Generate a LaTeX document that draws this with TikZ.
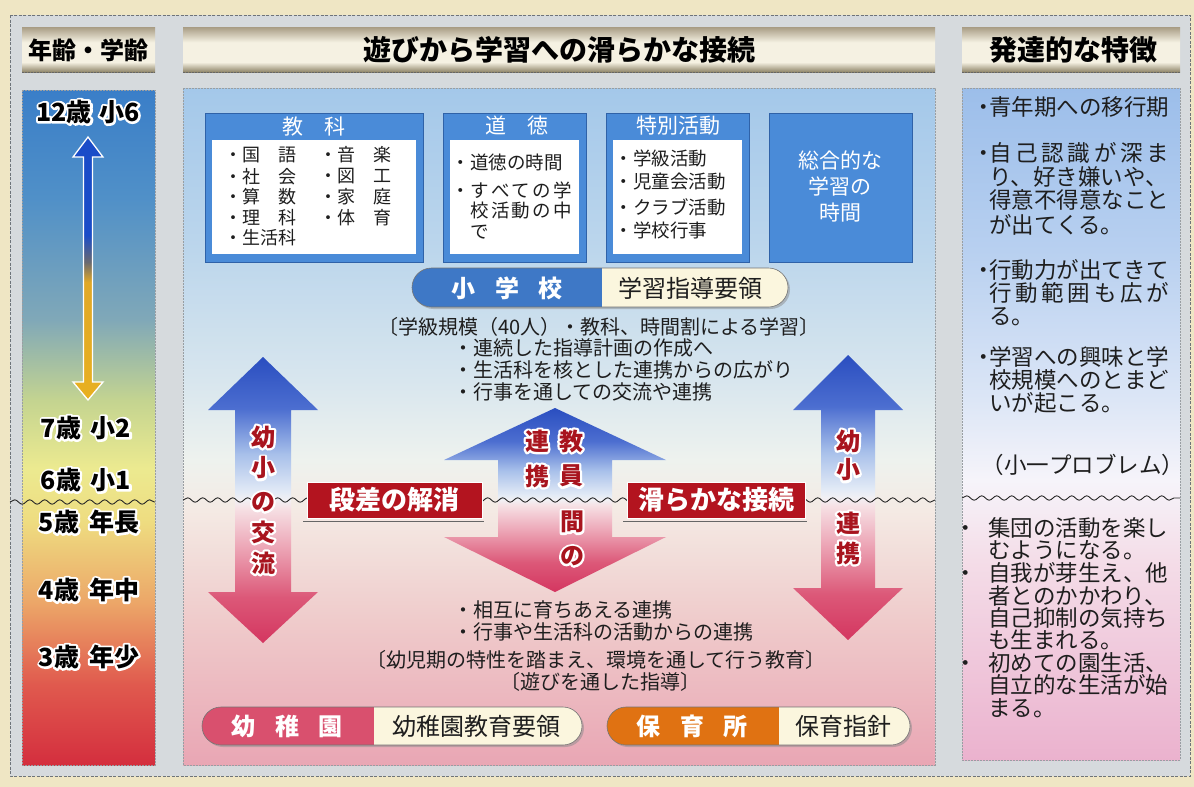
\documentclass[tikz,border=0pt]{standalone}
\usepackage{fontspec}
\setmainfont{Noto Sans CJK JP}
\usetikzlibrary{calc,decorations.pathmorphing}
\definecolor{bgcream}{HTML}{EFE6C4}
\definecolor{panelgrey}{HTML}{D6DADD}
\definecolor{panelborder}{HTML}{6E747A}
\definecolor{hdrT}{HTML}{A89C84}
\definecolor{hdrL}{HTML}{F5F1E2}
\definecolor{hdrD}{HTML}{8E8468}
\definecolor{ageR}{HTML}{D42E3E}
\definecolor{ageRO}{HTML}{E05A4E}
\definecolor{ageO}{HTML}{ECA668}
\definecolor{ageY}{HTML}{EEDC80}
\definecolor{ageY2}{HTML}{ECEA90}
\definecolor{ageYG}{HTML}{C4D490}
\definecolor{ageGB}{HTML}{80A8B8}
\definecolor{ageB2}{HTML}{5090C8}
\definecolor{ageB}{HTML}{3A7EC8}
\definecolor{midA}{HTML}{A4C8EA}
\definecolor{midB}{HTML}{BCD6EC}
\definecolor{midC}{HTML}{D8E6EE}
\definecolor{midD}{HTML}{EEF2EE}
\definecolor{midE}{HTML}{F4EAE4}
\definecolor{midF}{HTML}{EFCBCB}
\definecolor{midG}{HTML}{E9A6B4}
\definecolor{rA}{HTML}{9CBEEA}
\definecolor{rB}{HTML}{B8D0F0}
\definecolor{rC}{HTML}{DCE6F6}
\definecolor{rD}{HTML}{F6F4FA}
\definecolor{rE}{HTML}{F4DDE8}
\definecolor{rF}{HTML}{EBB2CE}
\definecolor{aR}{HTML}{D43660}
\definecolor{aR2}{HTML}{DC5878}
\definecolor{aP}{HTML}{EDA8B8}
\definecolor{aP2}{HTML}{F6E0E4}
\definecolor{aW}{HTML}{F2F0F4}
\definecolor{aLB}{HTML}{E2EAF6}
\definecolor{aB3}{HTML}{A8C0EA}
\definecolor{aB2}{HTML}{4C6ED0}
\definecolor{aB}{HTML}{2A4EC0}
\definecolor{agB}{HTML}{1A4CC8}
\definecolor{agM}{HTML}{6A6A70}
\definecolor{agO}{HTML}{E0A828}
\definecolor{agO2}{HTML}{E8B020}
\definecolor{boxblue}{HTML}{4A8BD8}
\definecolor{boxblueD}{HTML}{2F62A8}
\definecolor{pillblue}{HTML}{3E78C6}
\definecolor{pillcream}{HTML}{FBF6DE}
\definecolor{pillpink}{HTML}{D9506E}
\definecolor{pillorange}{HTML}{E07212}
\definecolor{labred}{HTML}{B3141F}
\definecolor{darkred}{HTML}{A8141E}
\definecolor{txtdark}{HTML}{1E1E1E}
\pgfdeclareverticalshading{hdr}{100bp}{color(0bp)=(hdrD); color(25bp)=(hdrD); color(36bp)=(hdrL); color(58bp)=(hdrL); color(75bp)=(hdrT); color(100bp)=(hdrT)}
\pgfdeclareverticalshading{agecol}{100bp}{color(0bp)=(ageR); color(25bp)=(ageR); color(31bp)=(ageRO); color(37bp)=(ageO); color(43bp)=(ageY); color(47bp)=(ageY2); color(52bp)=(ageYG); color(58bp)=(ageGB); color(67bp)=(ageB2); color(75bp)=(ageB); color(100bp)=(ageB)}
\pgfdeclareverticalshading{midcol}{100bp}{color(0bp)=(midG); color(25bp)=(midG); color(35.7bp)=(midF); color(43.8bp)=(midE); color(47.5bp)=(midD); color(53.4bp)=(midC); color(63bp)=(midB); color(75bp)=(midA); color(100bp)=(midA)}
\pgfdeclareverticalshading{rcol}{100bp}{color(0bp)=(rF); color(25bp)=(rF); color(39.9bp)=(rE); color(45.8bp)=(rD); color(51.8bp)=(rC); color(62.9bp)=(rB); color(75bp)=(rA); color(100bp)=(rA)}
\pgfdeclareverticalshading{dblarrow}{100bp}{color(0bp)=(aR); color(25bp)=(aR); color(33bp)=(aR2); color(42bp)=(aP); color(48.5bp)=(aP2); color(50bp)=(aW); color(51.5bp)=(aLB); color(58bp)=(aB3); color(66bp)=(aB2); color(75bp)=(aB); color(100bp)=(aB)}
\pgfdeclareverticalshading{agearrow}{100bp}{color(0bp)=(agO2); color(25bp)=(agO2); color(47.4bp)=(agO); color(51.2bp)=(agM); color(56.4bp)=(agB); color(75bp)=(agB); color(100bp)=(agB)}
\newcommand\bulA{\llap{・\hspace{-0.25em}}}
\newcommand\bulB{\llap{・\hspace{0.5em}}}
\newcommand\bulC{\llap{・}}
% outline copy: stroke only, round joins
\newcommand\strk[1]{\special{pdf:literal direct 1 Tr 4.4 w 1 j 1 J}#1\special{pdf:literal direct 0 Tr}}
\newcommand\halo[6]{%
  \node[#1,text=#4] (#2o) at (#3) {\strk{#6}};%
  \node[#1,text=#5] (#2) at (#3) {#6};}
\tikzset{
  hdrtxt/.style={font=\fontsize{28}{28}\selectfont\bfseries, text=black, inner sep=0},
  agetxt/.style={font=\fontsize{25}{25}\selectfont\bfseries, inner sep=0},
  arrtxt/.style={font=\fontsize{24}{24}\selectfont\bfseries, inner sep=0},
  boxhead/.style={font=\fontsize{21}{21}\selectfont, text=white, inner sep=0},
  item/.style={font=\fontsize{18.5}{18.5}\selectfont, text=txtdark, anchor=west, inner sep=0},
  body/.style={font=\fontsize{20}{20}\selectfont, text=txtdark, inner sep=0},
  rtxt/.style={font=\fontsize{22.5}{22.5}\selectfont, text=txtdark, anchor=west, inner sep=0},
  pilltxt/.style={font=\fontsize{24}{24}\selectfont, text=txtdark, inner sep=0},
  pilltxtw/.style={font=\fontsize{24}{24}\selectfont\bfseries, text=white, inner sep=0},
  redlab/.style={fill=labred, draw=white, line width=1, text=white, font=\fontsize{26}{26}\selectfont\bfseries, inner sep=0, minimum height=36},
  wave/.style={decorate, decoration={snake, segment length=15, amplitude=2.2}, line width=0.9, draw=black!85},
  bluebox/.style={fill=boxblue, draw=boxblueD, line width=0.6},
  panelline/.style={draw=panelborder!70, line width=0.5, dash pattern=on 2 off 1},
  pillout/.style={draw=black!55, line width=0.6},
  pillshadow/.style={fill=black!45, opacity=0.5},
}
\begin{document}
\begin{tikzpicture}[x=1pt,y=-1pt]
\useasboundingbox (0,0) rectangle (1194,787);
\fill[bgcream] (0,0) rectangle (1194,787);
\fill[panelgrey] (10,15) rectangle (1190,776);
\draw[draw=panelborder, line width=0.8, dash pattern=on 3 off 1.5] (10,15) rectangle (1190,776);
% headers
\foreach \xa/\xb in {22/155,183/935,962/1180}{%
  \shade[shading=hdr] (\xa,27) rectangle (\xb,72);
  \draw[draw=black!60, line width=0.8, dash pattern=on 2 off 1] (\xa,72) -- (\xb,72);}
\node[hdrtxt, font=\fontsize{24}{24}\selectfont\bfseries] (h1) at (88.5,50) {年齢・学齢};
\node[hdrtxt] (h2) at (559,50) {遊びから学習への滑らかな接続};
\node[hdrtxt] (h3) at (1073,50) {発達的な特徴};
% columns
\shade[shading=agecol] (22,90) rectangle (155,765);
\shade[shading=midcol] (183,88) rectangle (935,765);
\shade[shading=rcol] (962,88) rectangle (1180,760);
\draw[panelline] (22,90) rectangle (155,765);
\draw[panelline] (183,88) rectangle (935,765);
\draw[panelline] (962,88) rectangle (1180,760);
% age arrow
\shadedraw[shading=agearrow, draw=white, line width=1.3] (88,137) -- (103,157) -- (92.5,157) -- (92.5,382) -- (103,382) -- (88,400) -- (73,382) -- (83.5,382) -- (83.5,157) -- (73,157) -- cycle;
% waves
\draw[wave] (10,502) -- (155,502);
% age labels
\halo{agetxt}{a12}{88,112}{white}{black}{12歳\hspace{0.3em}小6}
\halo{agetxt}{a7}{86,428}{white}{black}{7歳\hspace{0.4em}小2}
\halo{agetxt}{a6}{86,480}{white}{black}{6歳\hspace{0.4em}小1}
\halo{agetxt}{a5}{89,522}{white}{black}{5歳\hspace{0.4em}年長}
\halo{agetxt}{a4}{89,590}{white}{black}{4歳\hspace{0.4em}年中}
\halo{agetxt}{a3}{89,657}{white}{black}{3歳\hspace{0.4em}年少}
% top boxes
\filldraw[bluebox] (205,113) rectangle (423,262);
\fill[white] (212,140) rectangle (416,254);
\filldraw[bluebox] (443,113) rectangle (586,262);
\fill[white] (450,140) rectangle (579,254);
\filldraw[bluebox] (606,113) rectangle (749,262);
\fill[white] (613,140) rectangle (742,254);
\filldraw[bluebox] (769,113) rectangle (912,262);
\node[boxhead] (kh) at (314,127) {教　科};
\node[boxhead] (dh) at (517,126) {道　徳};
\node[boxhead] (th) at (678,126) {特別活動};
\foreach \yy/\lineT [count=\i] in {155/国　語,176.5/社　会,197/算　数,217.5/理　科,238/生活科}
  {\node[item, font=\fontsize{18}{18}\selectfont] (ka\i) at (242,\yy) {\bulC\lineT};}
\foreach \yy/\lineT [count=\i] in {155/音　楽,176.5/図　工,197/家　庭,217.5/体　育}
  {\node[item, font=\fontsize{18}{18}\selectfont] (kb\i) at (337,\yy) {\bulC\lineT};}
\node[item] (d1) at (470,162) {\bulC 道徳の時間};
\node[item] (d2) at (470,190) {\bulC\makebox[102pt][s]{す\hfill べ\hfill て\hfill の\hfill 学}};
\node[item] (d3) at (470,211) {\makebox[102pt][s]{校\hfill 活\hfill 動\hfill の\hfill 中}};
\node[item] (d4) at (470,232) {で};
\foreach \yy/\lineT [count=\i] in {158/学級活動,182/児童会活動,207/クラブ活動,230/学校行事}
  {\node[item] (t\i) at (633,\yy) {\bulC\lineT};}
\node[boxhead, align=center, font=\fontsize{21}{26}\selectfont] (sg) at (840,186) {総合的な\\学習の\\時間};
% elementary school pill
\fill[pillshadow, rounded corners=19.5] (414,270) rectangle (790,309);
\begin{scope}
  \clip[rounded corners=19.5] (412,268) rectangle (788,307);
  \fill[pillcream] (412,268) rectangle (788,307);
  \fill[pillblue] (412,268) rectangle (602,307);
\end{scope}
\draw[pillout, rounded corners=19.5] (412,268) rectangle (788,307);
\node[pilltxtw] (sho) at (507,288) {小\hspace{0.8em}学\hspace{0.8em}校};
\node[pilltxt] (shoy) at (690,288) {学習指導要領};
% body texts upper
\node[body] (u0) at (599,327) {〔学級規模（40人）・教科、時間割による学習〕};
\node[body, anchor=west] (u1) at (473,348) {\bulC 連続した指導計画の作成へ};
\node[body, anchor=west] (u2) at (473,370) {\bulC 生活科を核とした連携からの広がり};
\node[body, anchor=west] (u3) at (473,392) {\bulC 行事を通しての交流や連携};
% big arrows
\shade[shading=dblarrow] (263,357) -- (318,410) -- (291,410) -- (291,592) -- (318,592) -- (263,643) -- (208,592) -- (235,592) -- (235,410) -- (208,410) -- cycle;
\shade[shading=dblarrow] (848,355) -- (903,410) -- (875,410) -- (875,588) -- (903,588) -- (848,640) -- (793,588) -- (821,588) -- (821,410) -- (793,410) -- cycle;
\shade[shading=dblarrow] (555,408) -- (666,460) -- (612,460) -- (612,537) -- (666,537) -- (555,592) -- (444,537) -- (498,537) -- (498,460) -- (444,460) -- cycle;
\draw[wave] (183,500) -- (935,500);
\draw[wave] (962,498) -- (1180,498);
% red labels
\draw[draw=black!60, line width=0.8] (303,521) -- (484,521);
\draw[draw=black!60, line width=0.8] (623,521) -- (807,521);
\node[redlab, minimum width=175] (dansa) at (394.5,500) {段差の解消};
\node[redlab, minimum width=178] (nameraka) at (716,500) {滑らかな接続};
% arrow texts
\halo{arrtxt}{l1}{263,437}{white}{darkred}{幼}
\halo{arrtxt}{l2}{263,468}{white}{darkred}{小}
\halo{arrtxt}{l3}{263,502}{white}{darkred}{の}
\halo{arrtxt}{l4}{263,532}{white}{darkred}{交}
\halo{arrtxt}{l5}{263,563}{white}{darkred}{流}
\halo{arrtxt}{c1}{571,441}{white}{darkred}{教}
\halo{arrtxt}{c2}{571,476}{white}{darkred}{員}
\halo{arrtxt}{c3}{537,441}{white}{darkred}{連}
\halo{arrtxt}{c4}{537,476}{white}{darkred}{携}
\halo{arrtxt}{c5}{572,522}{white}{darkred}{間}
\halo{arrtxt}{c6}{572,556}{white}{darkred}{の}
\halo{arrtxt}{r1}{848,441}{white}{darkred}{幼}
\halo{arrtxt}{r2}{848,470}{white}{darkred}{小}
\halo{arrtxt}{r3}{848,523}{white}{darkred}{連}
\halo{arrtxt}{r4}{848,553}{white}{darkred}{携}
% body texts lower
\node[body, anchor=west] (b1) at (473,610) {\bulC 相互に育ちあえる連携};
\node[body, anchor=west] (b2) at (473,632) {\bulC 行事や生活科の活動からの連携};
\node[body] (b3) at (596,660) {〔幼児期の特性を踏まえ、環境を通して行う教育〕};
\node[body] (b4) at (600,682) {〔遊びを通した指導〕};
% kindergarten pills
\fill[pillshadow, rounded corners=19] (204,709) rectangle (584,747);
\begin{scope}
  \clip[rounded corners=19] (202,707) rectangle (582,745);
  \fill[pillcream] (202,707) rectangle (582,745);
  \fill[pillpink] (202,707) rectangle (374,745);
\end{scope}
\draw[pillout, rounded corners=19] (202,707) rectangle (582,745);
\node[pilltxtw] (yo) at (287,726) {幼\hspace{0.8em}稚\hspace{0.8em}園};
\node[pilltxt] (yoy) at (476,726) {幼稚園教育要領};
\fill[pillshadow, rounded corners=19] (609,709) rectangle (912,747);
\begin{scope}
  \clip[rounded corners=19] (607,707) rectangle (910,745);
  \fill[pillcream] (607,707) rectangle (910,745);
  \fill[pillorange] (607,707) rectangle (779,745);
\end{scope}
\draw[pillout, rounded corners=19] (607,707) rectangle (910,745);
\node[pilltxtw] (ho) at (692,726) {保\hspace{0.8em}育\hspace{0.8em}所};
\node[pilltxt] (hoy) at (843,726) {保育指針};
% right column texts
\foreach \yy/\lineT [count=\i] in {
  107/{\bulA 青年期への移行期},
  153/{\bulA\makebox[8em][s]{自\hfill 己\hfill 認\hfill 識\hfill が\hfill 深\hfill ま}},
  177/{り、好き嫌いや、},
  200/{得意不得意なこと},
  225/{が出てくる。},
  270/{\bulA 行動力が出てきて},
  293/{\makebox[8em][s]{行\hfill 動\hfill 範\hfill 囲\hfill も\hfill 広\hfill が}},
  317/{る。},
  357/{\bulA 学習への興味と学},
  380/{校規模へのとまど},
  403/{いが起こる。}}
  {\node[rtxt] (ru\i) at (989,\yy) {\lineT};}
\node[rtxt, anchor=center] (prob) at (1083,465) {（小一プロブレム）};
\foreach \yy/\lineT [count=\i] in {
  528/{\bulB 集団の活動を楽し},
  550/{むようになる。},
  573/{\bulB 自我が芽生え、他},
  596/{者とのかかわり、},
  618/{自己抑制の気持ち},
  640/{も生まれる。},
  663/{\bulB 初めての園生活、},
  685/{自立的な生活が始},
  708/{まる。}}
  {\node[rtxt] (rl\i) at (988,\yy) {\lineT};}
\end{tikzpicture}
\end{document}
